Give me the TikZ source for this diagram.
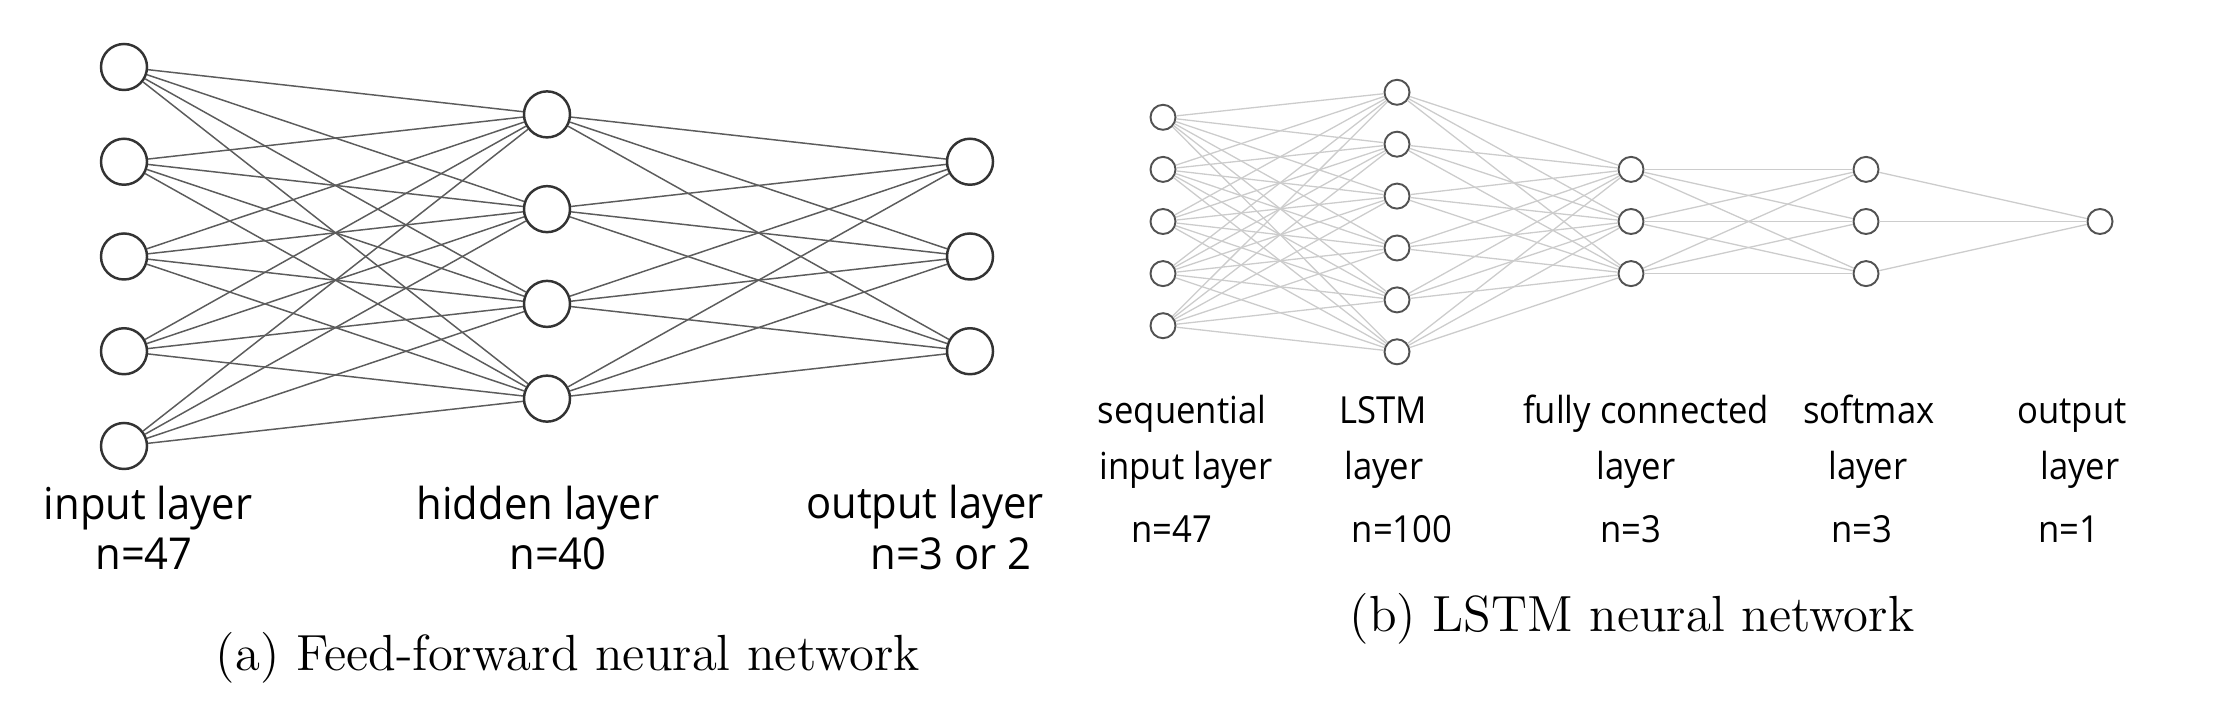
\documentclass[tikz,border=0pt]{standalone}
\usepackage{fontspec}
\newfontfamily\labfont[FakeStretch=0.93]{Open Sans}
\newfontfamily\labfontl[FakeStretch=0.95]{Open Sans}
\begin{document}
\begin{tikzpicture}[x=0.01cm,y=-0.01cm,
  lneuron/.style={circle,draw=black!80,line width=0.7pt,fill=white,minimum size=0.46cm,inner sep=0pt},
  ledge/.style={draw=black!64,line width=0.42pt},
  rneuron/.style={circle,draw=black!68,line width=0.55pt,fill=white,minimum size=0.25cm,inner sep=0pt},
  redge/.style={draw=black!20,line width=0.37pt},
  llab/.style={font=\labfontl\fontsize{12.5}{14}\selectfont,anchor=base,inner sep=0pt},
  rlab/.style={font=\labfont\fontsize{10.6}{12}\selectfont,anchor=base,inner sep=0pt},
  captext/.style={font=\fontsize{14.45}{17}\selectfont,anchor=base,inner sep=0pt}]
\useasboundingbox (0,0) rectangle (2221,707);
% ---------- (a) feed-forward ----------
\foreach \i in {1,...,5} \node[lneuron] (a\i) at (124,{67+94.75*(\i-1)}) {};
\foreach \j in {1,...,4} \node[lneuron] (b\j) at (547,{114.4+94.75*(\j-1)}) {};
\foreach \k in {1,...,3} \node[lneuron] (c\k) at (970,{161.75+94.75*(\k-1)}) {};
\foreach \i in {1,...,5} \foreach \j in {1,...,4} \draw[ledge] (a\i) -- (b\j);
\foreach \j in {1,...,4} \foreach \k in {1,...,3} \draw[ledge] (b\j) -- (c\k);
\node[llab] (la1) at (148,520) {input layer};
\node[llab] (la2) at (144,570) {n=47};
\node[llab] (lb1) at (538,520) {hidden layer};
\node[llab] (lb2) at (558,570) {n=40};
\node[llab] (lc1) at (925,519) {output layer};
\node[llab] (lc2) at (951,570) {n=3 or 2};
\node[captext] (capa) at (568,671) {(a) Feed-forward neural network};
% ---------- (b) LSTM ----------
\foreach \i in {1,...,5} \node[rneuron] (p\i) at (1163,{117.3+52.1*(\i-1)}) {};
\foreach \j in {1,...,6} \node[rneuron] (q\j) at (1397,{92.3+51.9*(\j-1)}) {};
\foreach \k in {1,...,3} \node[rneuron] (r\k) at (1631,{169.4+52.1*(\k-1)}) {};
\foreach \k in {1,...,3} \node[rneuron] (s\k) at (1866,{169.4+52.1*(\k-1)}) {};
\node[rneuron] (t1) at (2100,221.5) {};
\foreach \i in {1,...,5} \foreach \j in {1,...,6} \draw[redge] (p\i) -- (q\j);
\foreach \j in {1,...,6} \foreach \k in {1,...,3} \draw[redge] (q\j) -- (r\k);
\foreach \j in {1,...,3} \foreach \k in {1,...,3} \draw[redge] (r\j) -- (s\k);
\foreach \k in {1,...,3} \draw[redge] (s\k) -- (t1);
\node[rlab] (m11) at (1182,424) {sequential};
\node[rlab] (m12) at (1186,480) {input layer};
\node[rlab] (m13) at (1172,543) {n=47};
\node[rlab] (m21) at (1383,424) {LSTM};
\node[rlab] (m22) at (1384,480) {layer};
\node[rlab] (m23) at (1402,543) {n=100};
\node[rlab] (m31) at (1646,424) {fully connected};
\node[rlab] (m32) at (1636,480) {layer};
\node[rlab] (m33) at (1631,543) {n=3};
\node[rlab] (m41) at (1869,424) {softmax};
\node[rlab] (m42) at (1868,480) {layer};
\node[rlab] (m43) at (1862,543) {n=3};
\node[rlab] (m51) at (2072,424) {output};
\node[rlab] (m52) at (2080,480) {layer};
\node[rlab] (m53) at (2069,543) {n=1};
\node[captext] (capb) at (1632,632) {(b) LSTM neural network};
\end{tikzpicture}
\end{document}
